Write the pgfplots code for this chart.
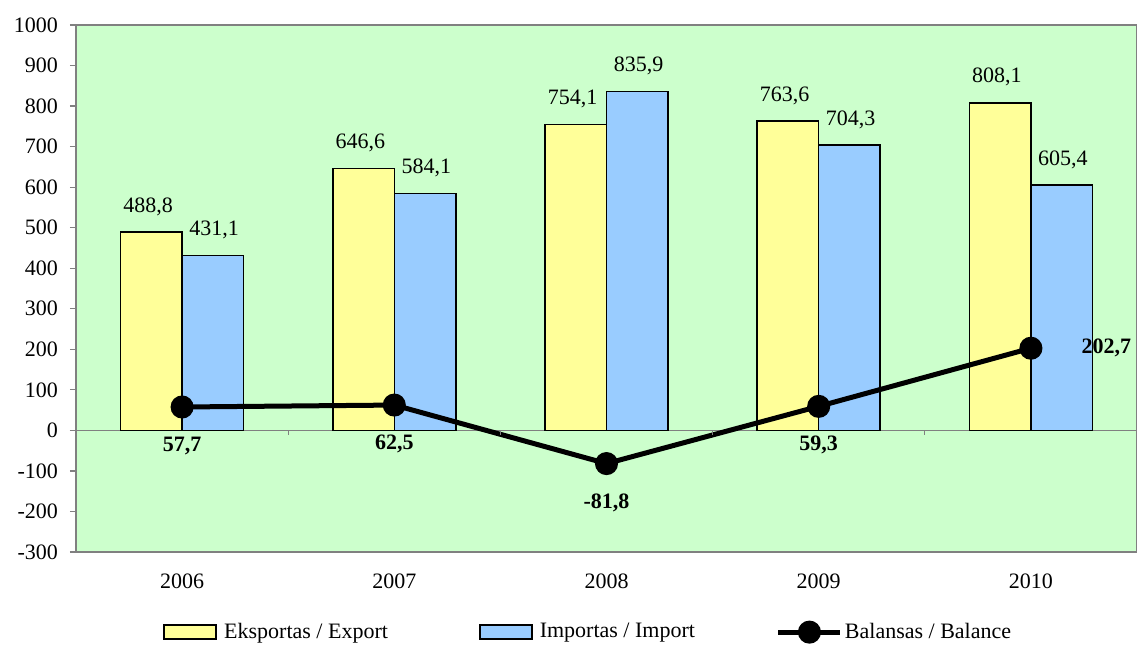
\documentclass[border=0pt]{standalone}
\usepackage{fontspec}
\setmainfont{Liberation Serif}
\usepackage{pgfplots}
\pgfplotsset{compat=1.18}
\definecolor{plotbg}{HTML}{CCFFCC}
\definecolor{exportc}{HTML}{FFFF99}
\definecolor{importc}{HTML}{99CCFF}
\newcommand{\lbl}[1]{\pgfmathprintnumber[fixed,fixed zerofill,precision=1]{#1}}
\begin{document}
\begin{tikzpicture}[font=\fontsize{11}{13}\selectfont]
\begin{axis}[
    width=530.5pt, height=263.5pt, scale only axis,
    xmin=-0.5, xmax=4.5, ymin=-300, ymax=1000,
    axis background/.style={fill=plotbg},
    axis line style={gray, line width=0.6pt},
    xtick={0,1,2,3,4},
    xticklabels={2006,2007,2008,2009,2010},
    xtick style={draw=none},
    xticklabel style={yshift=-4.6pt},
    ytick={-300,-200,...,1000},
    ytick style={gray, line width=0.6pt},
    tick align=outside, major tick length=3pt,
    yticklabel style={xshift=-2.5pt},
    extra y ticks={0}, extra y tick labels={},
    extra y tick style={grid=major, major grid style={gray, line width=0.8pt}},
    /pgf/number format/use comma,
    /pgf/number format/1000 sep={},
    /pgf/number format/assume math mode=true,
    legend columns=3,
    legend style={at={(0.082,-0.152)}, anchor=west, draw=none, fill=none,
        inner sep=0pt, font=\fontsize{11}{13}\selectfont,
        nodes={inner xsep=3.5pt},
        /tikz/every even column/.append style={column sep=0pt},
        /tikz/every odd column/.append style={column sep=0pt}},
    ]
\addplot[ybar, bar width=0.29, bar shift=-0.145, fill=exportc, draw=black, line width=0.75pt,
    legend image code/.code={\draw[fill=exportc, draw=black, line width=0.9pt] (0pt,-3.4pt) rectangle (26pt,3.4pt);},
    nodes near coords={\lbl{\pgfplotspointmeta}},
    every node near coord/.append style={anchor=south, xshift=-17pt, yshift=4.5pt, black, inner xsep=1pt}]
    coordinates {(0,488.8) (1,646.6) (2,754.1) (3,763.6) (4,808.1)};
\addlegendentry{Eksportas / Export\hspace*{42pt}}
\addplot[ybar, bar width=0.29, bar shift=0.145, fill=importc, draw=black, line width=0.75pt,
    legend image code/.code={\draw[fill=importc, draw=black, line width=0.9pt] (0pt,-3.4pt) rectangle (26pt,3.4pt);},
    nodes near coords={\lbl{\pgfplotspointmeta}},
    every node near coord/.append style={anchor=south, xshift=16pt, yshift=4.5pt, black, inner xsep=1pt}]
    coordinates {(0,431.1) (1,584.1) (2,835.9) (3,704.3) (4,605.4)};
\addlegendentry{Importas / Import\hspace*{37pt}}
\addplot[black, line width=2.5pt, mark=*, mark size=4.5pt,
    legend image code/.code={\draw[black, line width=2.5pt] (0pt,0pt) -- (31pt,0pt);
        \fill[black] (15.5pt,0pt) circle (4.5pt);},
    mark options={solid}]
    coordinates {(0,57.7) (1,62.5) (2,-81.8) (3,59.3) (4,202.7)};
\addlegendentry[inner xsep=1pt]{Balansas / Balance}
% labels of the balance
\addplot[draw=none, forget plot,
    nodes near coords={\lbl{\pgfplotspointmeta}},
    every node near coord/.append style={anchor=north, yshift=-11.5pt, black, font=\fontsize{11}{13}\selectfont\bfseries}]
    coordinates {(0,57.7) (1,62.5) (2,-81.8) (3,59.3)};
\addplot[draw=none, forget plot,
    nodes near coords={\lbl{\pgfplotspointmeta}},
    every node near coord/.append style={anchor=west, xshift=21.8pt, black, font=\fontsize{11}{13}\selectfont\bfseries}]
    coordinates {(4,202.7)};
\pgfplotsinvokeforeach{0.5,1.5,2.5,3.5}{
    \draw[gray, line width=0.6pt] (axis cs:#1,0) -- ([yshift=-2.5pt]axis cs:#1,0);
}
\coordinate (bl) at (rel axis cs:0,0);
\coordinate (tr) at (rel axis cs:1,1);
\end{axis}
\pgfresetboundingbox
\path ([xshift=-38pt,yshift=-46pt]bl) rectangle ([yshift=12.5pt]tr);
\end{tikzpicture}
\end{document}
